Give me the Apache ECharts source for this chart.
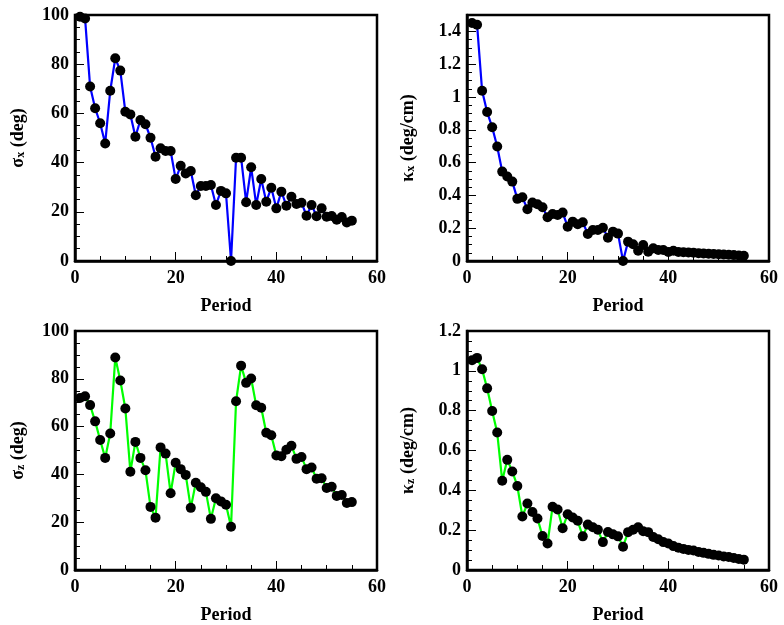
<!DOCTYPE html>
<html>
<head>
<meta charset="utf-8">
<script src="https://cdn.jsdelivr.net/npm/echarts@6/dist/echarts.min.js"></script>
<style>
  html, body { margin: 0; padding: 0; background: #fff; }
  #chart { width: 784px; height: 625px; }
</style>
</head>
<body>
<div id="chart"></div>
<script>
// values per period (1..55)
const sigmaX = [99.3, 98.6, 70.9, 62.1, 56.0, 47.8, 69.2, 82.4, 77.4, 60.7,
  59.6, 50.5, 57.3, 55.6, 50.1, 42.4, 45.8, 44.7, 44.7, 33.3,
  38.7, 35.6, 36.6, 26.7, 30.5, 30.5, 30.9, 22.8, 28.5, 27.5,
  0, 42.0, 42.0, 23.9, 38.1, 22.8, 33.3, 24.1, 29.8, 21.4,
  28.2, 22.5, 26.1, 23.2, 23.7, 18.4, 22.8, 18.2, 21.4, 18.0,
  18.3, 16.8, 17.9, 15.7, 16.4];
const kappaX = [1.451, 1.441, 1.038, 0.908, 0.816, 0.698, 0.545, 0.515, 0.484, 0.379,
  0.389, 0.316, 0.356, 0.346, 0.328, 0.267, 0.287, 0.281, 0.295, 0.209,
  0.240, 0.224, 0.236, 0.165, 0.189, 0.189, 0.203, 0.142, 0.179, 0.167,
  0, 0.118, 0.102, 0.063, 0.098, 0.057, 0.077, 0.067, 0.067, 0.055,
  0.063, 0.055, 0.053, 0.052, 0.050, 0.048, 0.046, 0.044, 0.043, 0.041,
  0.040, 0.038, 0.036, 0.034, 0.032];
const sigmaZ = [72.0, 72.7, 69.0, 62.2, 54.4, 46.9, 57.1, 88.9, 79.3, 67.6,
  41.1, 53.6, 46.9, 41.7, 26.4, 21.9, 51.3, 48.7, 32.1, 44.9,
  42.2, 39.8, 26.0, 36.5, 34.6, 32.7, 21.4, 30.0, 28.7, 27.3,
  18.1, 70.6, 85.5, 78.3, 80.1, 68.9, 67.9, 57.4, 56.4, 47.9,
  47.6, 50.3, 52.0, 46.5, 47.3, 42.2, 42.9, 38.2, 38.4, 34.3,
  34.8, 31.0, 31.4, 28.0, 28.4];
const kappaZ = [1.053, 1.065, 1.008, 0.912, 0.798, 0.690, 0.448, 0.553, 0.495, 0.422,
  0.269, 0.334, 0.291, 0.259, 0.171, 0.133, 0.318, 0.304, 0.210, 0.280,
  0.264, 0.247, 0.169, 0.228, 0.215, 0.202, 0.140, 0.191, 0.179, 0.169,
  0.117, 0.190, 0.202, 0.215, 0.195, 0.190, 0.166, 0.154, 0.140, 0.133,
  0.120, 0.112, 0.106, 0.101, 0.098, 0.091, 0.086, 0.081, 0.076, 0.073,
  0.068, 0.065, 0.060, 0.055, 0.052];

const xTicks = { min: 0, max: 60, interval: 20 };
const panels = [
  { data: sigmaX, color: "#0000ff", sym: "σ", sub: "x", unit: " (deg)", max: 100, interval: 20, showMax: true, gap: 48, rect: [75, 15] },
  { data: kappaX, color: "#0000ff", sym: "κ", sub: "x", unit: " (deg/cm)", max: 1.5, interval: 0.2, showMax: false, gap: 50, rect: [467, 15] },
  { data: sigmaZ, color: "#00ff00", sym: "σ", sub: "z", unit: " (deg)", max: 100, interval: 20, showMax: true, gap: 48, rect: [75, 331] },
  { data: kappaZ, color: "#00ff00", sym: "κ", sub: "z", unit: " (deg/cm)", max: 1.2, interval: 0.2, showMax: true, gap: 50, rect: [467, 331] },
];

const font = "Liberation Serif";
const labelStyle = { fontFamily: font, fontWeight: "bold", fontSize: 18, color: "#000" };

let chart = echarts.init(document.getElementById("chart"));
chart.setOption({
  animation: false,
  backgroundColor: "#fff",
  grid: panels.map((p) => ({
    left: p.rect[0], top: p.rect[1], width: 302, height: 246,
    show: true, borderColor: "#000", borderWidth: 2.5, backgroundColor: "transparent",
  })),
  xAxis: panels.map((p, i) => ({
    type: "value",
    gridIndex: i,
    min: xTicks.min, max: xTicks.max, interval: xTicks.interval,
    name: "Period",
    nameLocation: "middle",
    nameGap: 36,
    nameTextStyle: labelStyle,
    axisLine: { lineStyle: { color: "#000", width: 2.5 } },
    axisTick: { inside: true, length: 9, lineStyle: { color: "#000", width: 1 } },
    minorTick: { show: true, splitNumber: 4, length: 5, lineStyle: { color: "#000", width: 1 } },
    axisLabel: Object.assign({ margin: 8 }, labelStyle),
    splitLine: { show: false },
  })),
  yAxis: panels.map((p, i) => ({
    type: "value",
    gridIndex: i,
    min: 0, max: p.max, interval: p.interval,
    name: "{a|" + p.sym + "}{b|" + p.sub + "}{a|" + p.unit + "}",
    nameLocation: "middle",
    nameRotate: 90,
    nameGap: p.gap,
    nameTextStyle: {
      rich: {
        a: { fontFamily: font, fontWeight: "bold", fontSize: 18, color: "#000", verticalAlign: "bottom", lineHeight: 20 },
        b: { fontFamily: font, fontWeight: "bold", fontSize: 12, color: "#000", verticalAlign: "bottom", lineHeight: 15 },
      },
    },
    axisLine: { lineStyle: { color: "#000", width: 2.5 } },
    axisTick: { inside: true, length: 9, lineStyle: { color: "#000", width: 1 } },
    minorTick: { show: true, splitNumber: 4, length: 5, lineStyle: { color: "#000", width: 1 } },
    axisLabel: Object.assign({ margin: 6, showMaxLabel: p.showMax }, labelStyle),
    splitLine: { show: false },
  })),
  series: panels.map((p, i) => ({
    type: "line",
    xAxisIndex: i,
    yAxisIndex: i,
    data: p.data.map((v, k) => [k + 1, v]),
    symbol: "circle",
    symbolSize: 10,
    showAllSymbol: true,
    itemStyle: { color: "#000" },
    lineStyle: { color: p.color, width: 2.2 },
  })),
});
</script>
</body>
</html>
